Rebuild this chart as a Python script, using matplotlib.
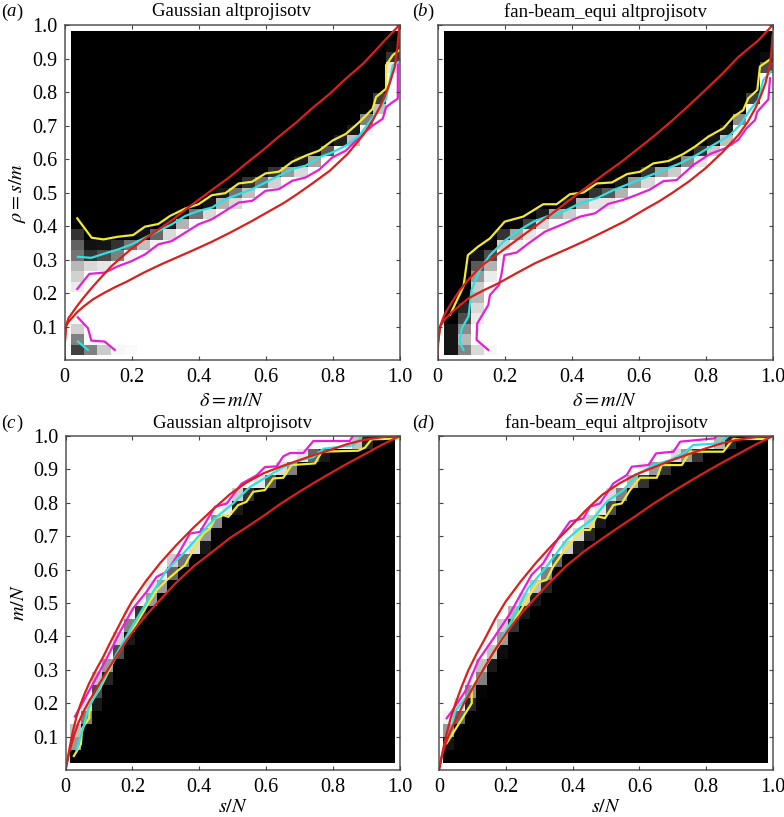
import numpy as np
import matplotlib
matplotlib.use("Agg")
import matplotlib.pyplot as plt

plt.rcParams['font.family'] = ['Liberation Serif', 'DejaVu Serif']
plt.rcParams['mathtext.fontset'] = 'stix'

# gray level of the transition cells, per column (a, b) or per row (c, d)
# index -> {cell: gray}; past the last listed cell it is black, unlisted below is white
gray_a = {1: {1: .25, 2: .5, 3: .82, 4: .97, 7: .92, 8: .82, 9: .72, 10: .45, 11: .38, 12: .2, 13: .02},
          2: {1: .5, 2: .97, 9: .85, 10: .2, 11: .07},
          3: {1: .8, 9: .9, 10: .3, 11: .08},
          4: {1: .97, 9: .99, 10: .5, 11: .2},
          5: {1: .98, 10: .95, 11: .45, 12: .02},
          6: {11: .75, 12: .07},
          7: {11: .95, 12: .4, 13: .01},
          8: {12: .85, 13: .1},
          9: {12: .98, 13: .7, 14: .03},
          10: {13: .98, 14: .45},
          11: {14: .85, 15: .08},
          12: {15: .7, 16: .1},
          13: {15: .85, 16: .45},
          14: {16: .75, 17: .2},
          15: {16: .98, 17: .45, 18: .03},
          16: {17: .82, 18: .2},
          17: {17: .98, 18: .6},
          18: {18: .85, 19: .1},
          19: {19: .65, 20: .03},
          20: {19: .99, 20: .35},
          21: {20: .95, 21: .12},
          22: {21: .75, 22: .1},
          23: {22: .95, 23: .5, 24: .02},
          24: {24: .75, 25: .25},
          25: {28: .9, 29: .2, 30: .05}}
gray_b = {1: {1: .08, 2: .08, 3: .08},
          2: {1: .52, 2: .72, 3: .55, 4: .3, 5: .15, 6: .03},
          3: {1: .85, 2: .99, 3: .99, 4: .92, 5: .85, 6: .72, 7: .8, 8: .6, 9: .35, 10: .08},
          4: {1: .97, 8: .92, 9: .7, 10: .3, 11: .03},
          5: {10: .97, 11: .8, 12: .2},
          6: {11: .95, 12: .65, 13: .03},
          7: {12: .9, 13: .25},
          8: {13: .85, 14: .12},
          9: {13: .98, 14: .65},
          10: {14: .8, 15: .12},
          11: {14: .98, 15: .7, 16: .03},
          12: {15: .9, 16: .2},
          13: {15: .9, 16: .35},
          14: {16: .7, 17: .1},
          15: {17: .6, 18: .03},
          16: {17: .85, 18: .2},
          17: {17: .98, 18: .65},
          18: {18: .8, 19: .08},
          19: {19: .55},
          20: {19: .9, 20: .2},
          21: {20: .8, 21: .08},
          22: {21: .75, 22: .1},
          23: {22: .95, 23: .55, 24: .02},
          24: {24: .95, 25: .25},
          25: {27: .98, 28: .3, 29: .05}}
gray_c = {1: {1: 0},
          2: {1: .6},
          3: {1: .75},
          4: {1: .99, 2: .5},
          5: {2: .85, 3: .1},
          6: {2: .99, 3: .3},
          7: {3: .75, 4: .15},
          8: {4: .6},
          9: {4: .97, 5: .3},
          10: {5: .8, 6: .1},
          11: {6: .5},
          12: {6: .95, 7: .2},
          13: {7: .95, 8: .6},
          14: {8: .9, 9: .6},
          15: {9: .95, 10: .4},
          16: {10: .8, 11: .45},
          17: {11: .98, 12: .85, 13: .1},
          18: {13: .6, 14: .02},
          19: {14: .55},
          20: {14: .98, 15: .9, 16: .1},
          21: {16: .8, 17: .2},
          22: {18: .9, 19: .35},
          23: {20: .85, 21: .5},
          24: {22: .9, 23: .4, 24: .1},
          25: {27: .75, 28: .15}}
gray_d = {1: {1: 0},
          2: {1: .08},
          3: {1: .6},
          4: {1: .95, 2: .4},
          5: {2: .9, 3: .15},
          6: {3: .55, 4: .02},
          7: {3: .95, 4: .5},
          8: {4: .75, 5: .1},
          9: {5: .75, 6: .05},
          10: {5: .98, 6: .6},
          11: {6: .8, 7: .2},
          12: {7: .7, 8: .1},
          13: {8: .8, 9: .1},
          14: {9: .75, 10: .15},
          15: {10: .5, 11: .03},
          16: {10: .95, 11: .4},
          17: {12: .8, 13: .1},
          18: {13: .85, 14: .15},
          19: {14: .8, 15: .1},
          20: {15: .9, 16: .3},
          21: {16: .85, 17: .5},
          22: {18: .7, 19: .2},
          23: {19: .95, 20: .6, 21: .2},
          24: {22: .85, 23: .6, 24: .2},
          25: {26: .7, 27: .15}}

# panel a curves
a_yellow_x = [.038, .081, .116, .16, .205, .24, .28, .315, .36, .4, .44, .48, .52, .56, .6, .64, .68, .72, .76, .8, .84, .88, .9, .92, .93, .96, .96, .98, 1.0]
a_yellow_y = [.423, .365, .36, .368, .373, .398, .406, .43, .452, .465, .492, .498, .527, .532, .557, .562, .592, .61, .625, .655, .675, .71, .73, .75, .785, .81, .88, .91, .925]
a_cyan_x = [.04, .08, .12, .16, .2, .24, .28, .32, .36, .4, .44, .48, .52, .56, .6, .64, .68, .72, .76, .8, .84, .88, .91, .94, .96, .98, 1.0]
a_cyan_y = [.308, .305, .318, .33, .345, .365, .385, .405, .43, .445, .455, .48, .495, .51, .53, .55, .57, .58, .605, .62, .64, .67, .71, .75, .78, .88, .89]
a_magenta_x = [.038, .074, .12, .16, .2, .24, .28, .32, .36, .4, .44, .48, .52, .56, .6, .64, .68, .72, .76, .8, .84, .88, .92, .95, .96, .98, .995, .995]
a_magenta_y = [.212, .257, .261, .28, .295, .315, .345, .355, .38, .405, .42, .445, .47, .475, .505, .51, .535, .545, .568, .605, .625, .665, .7, .72, .755, .77, .78, .89]
a_magenta2_x = [.04, .07, .08, .12, .15]
a_magenta2_y = [.127, .095, .058, .055, .03]
a_cyan2_x = [.04, .07]
a_cyan2_y = [.055, .03]
a_red1_x = [0, .001, .004, .012, .036, .056, .076, .096, .116, .14, .166, .2, .235, .275, .315, .36, .42, .494, .54, .593, .64, .693, .74, .792, .84, .892, .957, 1]
a_red1_y = [.01, .05, .1, .125, .159, .185, .209, .232, .254, .28, .303, .332, .358, .386, .413, .448, .493, .547, .585, .627, .667, .71, .752, .795, .84, .885, .955, 1]
a_red2_x = [0, .001, .004, .012, .021, .036, .056, .085, .116, .15, .186, .235, .285, .335, .385, .44, .494, .556, .618, .655, .693, .74, .792, .845, .892, .92, .942, .958, .971, .986, .994, 1]
a_red2_y = [.01, .05, .1, .114, .124, .141, .159, .181, .199, .217, .234, .26, .284, .306, .328, .353, .38, .413, .448, .469, .494, .527, .565, .615, .672, .715, .756, .793, .826, .876, .935, 1]

# panel b curves
b_yellow_x = [.037, .077, .09, .12, .156, .2, .255, .315, .355, .395, .435, .475, .52, .565, .604, .644, .689, .733, .768, .808, .853, .883, .912, .927, .954, .962, .99]
b_yellow_y = [.135, .22, .313, .338, .363, .413, .428, .465, .465, .495, .5, .527, .53, .555, .562, .587, .594, .615, .637, .667, .692, .726, .746, .781, .806, .876, .896]
b_cyan_x = [.077, .065, .072, .092, .101, .126, .156, .196, .236, .286, .325, .375, .425, .475, .524, .574, .624, .674, .723, .773, .823, .873, .902, .932, .957, .972, .995]
b_cyan_y = [.03, .055, .095, .13, .209, .269, .313, .353, .383, .413, .428, .443, .468, .483, .507, .527, .547, .567, .587, .612, .642, .672, .701, .746, .776, .836, .861]
b_magenta_x = [.151, .116, .118, .151, .156, .183, .191, .199, .236, .271, .32, .375, .425, .47, .509, .554, .594, .634, .674, .713, .763, .813, .858, .897, .922, .947, .954, .987, .992]
b_magenta_y = [.03, .06, .109, .164, .194, .224, .259, .313, .321, .348, .383, .406, .428, .438, .466, .478, .493, .509, .534, .537, .582, .615, .632, .657, .692, .716, .741, .778, .841]
b_red1_x = [0, .001, .007, .02, .042, .065, .092, .115, .141, .165, .191, .241, .29, .34, .41, .5, .55, .6, .65, .699, .75, .799, .85, .898, .958, 1]
b_red1_y = [.01, .05, .1, .135, .172, .207, .24, .265, .289, .306, .325, .362, .398, .436, .49, .557, .593, .632, .672, .714, .76, .806, .855, .905, .955, 1]
b_red2_x = [0, .001, .007, .02, .042, .065, .092, .135, .181, .235, .291, .34, .39, .445, .5, .56, .619, .66, .699, .75, .799, .85, .898, .925, .948, .965, .978, .993, 1]
b_red2_y = [.01, .05, .1, .12, .142, .162, .184, .207, .229, .259, .289, .311, .333, .358, .385, .415, .45, .473, .498, .533, .572, .62, .672, .71, .751, .79, .825, .886, .97]

# panel c curves
c_yellow_x = [.025, .046, .05, .071, .073, .103, .148, .197, .242, .272, .302, .337, .357, .387, .412, .432, .447, .472, .487, .516, .541, .561, .596, .621, .651, .676, .746, .766, .875, .895, .915, .98, 1.0]
c_yellow_y = [.042, .077, .125, .155, .2, .244, .334, .414, .489, .538, .568, .598, .613, .668, .708, .723, .753, .763, .758, .793, .803, .833, .838, .873, .875, .913, .918, .953, .956, .965, .99, .992, .992]
c_cyan_x = [.033, .053, .068, .103, .153, .202, .252, .302, .352, .392, .422, .452, .501, .551, .601, .651, .701, .741, .771, .86, .885]
c_cyan_y = [.06, .125, .184, .249, .349, .434, .518, .598, .648, .693, .728, .758, .798, .847, .877, .907, .927, .937, .962, .972, .997]
c_magenta_x = [.028, .058, .088, .123, .163, .202, .242, .272, .302, .332, .372, .402, .447, .482, .526, .571, .596, .631, .651, .671, .711, .741, .85, .858]
c_magenta_y = [.16, .214, .269, .334, .414, .484, .533, .578, .593, .638, .708, .713, .788, .798, .857, .882, .907, .909, .939, .949, .949, .985, .985, .999]
c_red1_x = [0, .006, .013, .022, .033, .045, .058, .07, .083, .098, .113, .133, .153, .175, .198, .24, .2825, .33, .382, .435, .492, .54, .591, .64, .691, .74, .791, .84, .89, .95, 1]
c_red1_y = [0, .03, .07, .115, .16, .197, .23, .258, .284, .312, .339, .38, .419, .462, .504, .565, .619, .672, .725, .775, .826, .86, .888, .907, .925, .942, .958, .975, .988, .997, 1]
c_red2_x = [0, .006, .013, .025, .038, .055, .073, .098, .123, .153, .183, .208, .233, .258, .2825, .33, .382, .435, .492, .54, .591, .64, .691, .74, .791, .84, .89, .945, 1]
c_red2_y = [0, .03, .06, .102, .14, .177, .21, .253, .294, .342, .389, .423, .454, .482, .509, .56, .609, .65, .695, .726, .76, .795, .828, .858, .888, .916, .943, .973, 1]

# panel d curves
d_yellow_x = [.023, .098, .098, .233, .287, .297, .322, .342, .377, .407, .432, .452, .472, .497, .522, .547, .572, .602, .652, .667, .727, .752, .851, .881, .981, 1.0]
d_yellow_y = [.08, .2, .245, .459, .549, .562, .569, .609, .659, .694, .719, .719, .76, .754, .793, .798, .838, .875, .875, .913, .913, .953, .953, .991, .991, 1.0]
d_cyan_x = [.033, .048, .098, .153, .208, .267, .322, .382, .422, .462, .502, .552, .592, .642, .692, .732, .761, .841, .866]
d_cyan_y = [.105, .175, .24, .334, .429, .544, .609, .689, .724, .753, .803, .838, .883, .913, .928, .948, .973, .978, 1.0]
d_magenta_x = [.023, .038, .078, .118, .163, .213, .277, .312, .357, .392, .432, .452, .482, .522, .562, .577, .627, .65, .702, .722, .826, .831]
d_magenta_y = [.155, .175, .235, .329, .394, .469, .584, .619, .694, .744, .753, .788, .798, .858, .883, .908, .913, .948, .953, .983, .993, 1.0]
d_red1_x = [0, .004, .008, .015, .023, .035, .048, .068, .088, .112, .138, .168, .2, .245, .29, .34, .39, .44, .49, .54, .59, .64, .69, .74, .79, .84, .89, .95, 1]
d_red1_y = [0, .02, .04, .075, .11, .155, .195, .25, .299, .347, .394, .452, .505, .565, .62, .675, .725, .778, .825, .858, .885, .905, .925, .943, .96, .976, .988, .997, 1]
d_red2_x = [0, .008, .02, .035, .05, .073, .098, .118, .138, .163, .188, .21, .233, .258, .2825, .33, .382, .435, .492, .54, .591, .64, .691, .74, .791, .84, .89, .945, 1]
d_red2_y = [0, .04, .08, .118, .15, .197, .24, .276, .31, .352, .39, .422, .452, .482, .509, .56, .612, .655, .695, .728, .762, .796, .828, .858, .888, .916, .943, .973, 1]

W, H = 784, 817


def make_grid(table, n_outer, n_inner):
    grid = np.zeros((n_outer, n_inner))
    for i, cells in table.items():
        last = max(cells)
        for j in range(1, last + 1):
            grid[i - 1, j - 1] = cells.get(j, 1.0)
    return grid


def panel(box, table, tall, lines, red, title, letter, letter_x, xlabel, ylabel):
    left, right, top, bottom = box
    ax = fig.add_axes([left / W, 1 - bottom / H, (right - left) / W, (bottom - top) / H])
    if tall:
        grid = make_grid(table, 25, 31)
        ax.pcolormesh(np.linspace(.02, 1, 26), np.linspace(.015, .983, 32), grid.T, cmap='gray', vmin=0, vmax=1)
    else:
        grid = make_grid(table, 25, 30)
        ax.pcolormesh(np.linspace(.013, .985, 31), np.linspace(.02, 1, 26), grid, cmap='gray', vmin=0, vmax=1)
    for x, y, c in lines:
        ax.plot(x, y, color=c, lw=1.6)
    for x, y in red:
        ax.plot(x, y, color='#d9201c', lw=1.6)
    ax.set_xlim(0, 1)
    ax.set_ylim(0, 1)
    ax.set_xticks([0, .2, .4, .6, .8, 1.0])
    ax.set_xticklabels(['0', '0.2', '0.4', '0.6', '0.8', '1.0'], fontsize=14.5)
    ax.set_yticks(np.arange(1, 11) / 10)
    if ylabel:
        ax.set_yticklabels(['%.1f' % (i / 10) for i in range(1, 11)], fontsize=14.5)
        ax.set_ylabel(ylabel, fontsize=14.5, labelpad=3)
    else:
        ax.set_yticklabels([])
    ax.set_xlabel(xlabel, fontsize=14.5, labelpad=3 if tall else 0.5)
    ax.tick_params(direction='in', top=True, right=True, length=3, width=.8, color='#444444', pad=6)
    ax.tick_params(axis='y', pad=5)
    ax.set_axisbelow(False)
    for s in ax.spines.values():
        s.set_color('#555555')
        s.set_linewidth(1.1)
    fig.text((left + right) / 2 / W, 1 - (top - 13) / H, title, fontsize=13.5, ha='center', va='center')
    fig.text(letter_x / W, 1 - (top - 13) / H, '(', fontsize=13.5, ha='left', va='center')
    fig.text((letter_x + 5) / W, 1 - (top - 13) / H, letter, fontsize=13.5, style='italic', ha='left', va='center')
    fig.text((letter_x + 15) / W, 1 - (top - 13) / H, ')', fontsize=13.5, ha='left', va='center')


Y, C, M = '#f2ea2e', '#2fe0e0', '#e41fd6'
fig = plt.figure(figsize=(W / 100, H / 100), dpi=100)

panel((64.5, 399.5, 25, 360), gray_a, True,
      [(a_magenta_x, a_magenta_y, M), (a_magenta2_x, a_magenta2_y, M), (a_yellow_x, a_yellow_y, Y),
       (a_cyan_x, a_cyan_y, C), (a_cyan2_x, a_cyan2_y, C)],
      [(a_red1_x, a_red1_y), (a_red2_x, a_red2_y)],
      'Gaussian altprojisotv', 'a', 1, r'$\delta = m/N$', r'$\rho = s/m$')
panel((437.7, 772.7, 25, 360), gray_b, True,
      [(b_magenta_x, b_magenta_y, M), (b_yellow_x, b_yellow_y, Y), (b_cyan_x, b_cyan_y, C)],
      [(b_red1_x, b_red1_y), (b_red2_x, b_red2_y)],
      'fan-beam_equi altprojisotv', 'b', 412, r'$\delta = m/N$', None)
panel((65.5, 400, 436, 770), gray_c, False,
      [(c_magenta_x, c_magenta_y, M), (c_yellow_x, c_yellow_y, Y), (c_cyan_x, c_cyan_y, C)],
      [(c_red1_x, c_red1_y), (c_red2_x, c_red2_y)],
      'Gaussian altprojisotv', 'c', 1, r'$s/N$', r'$m/N$')
panel((439, 773, 436, 770), gray_d, False,
      [(d_magenta_x, d_magenta_y, M), (d_yellow_x, d_yellow_y, Y), (d_cyan_x, d_cyan_y, C)],
      [(d_red1_x, d_red1_y), (d_red2_x, d_red2_y)],
      'fan-beam_equi altprojisotv', 'd', 412, r'$s/N$', None)

fig.savefig('out.png', dpi=100)
